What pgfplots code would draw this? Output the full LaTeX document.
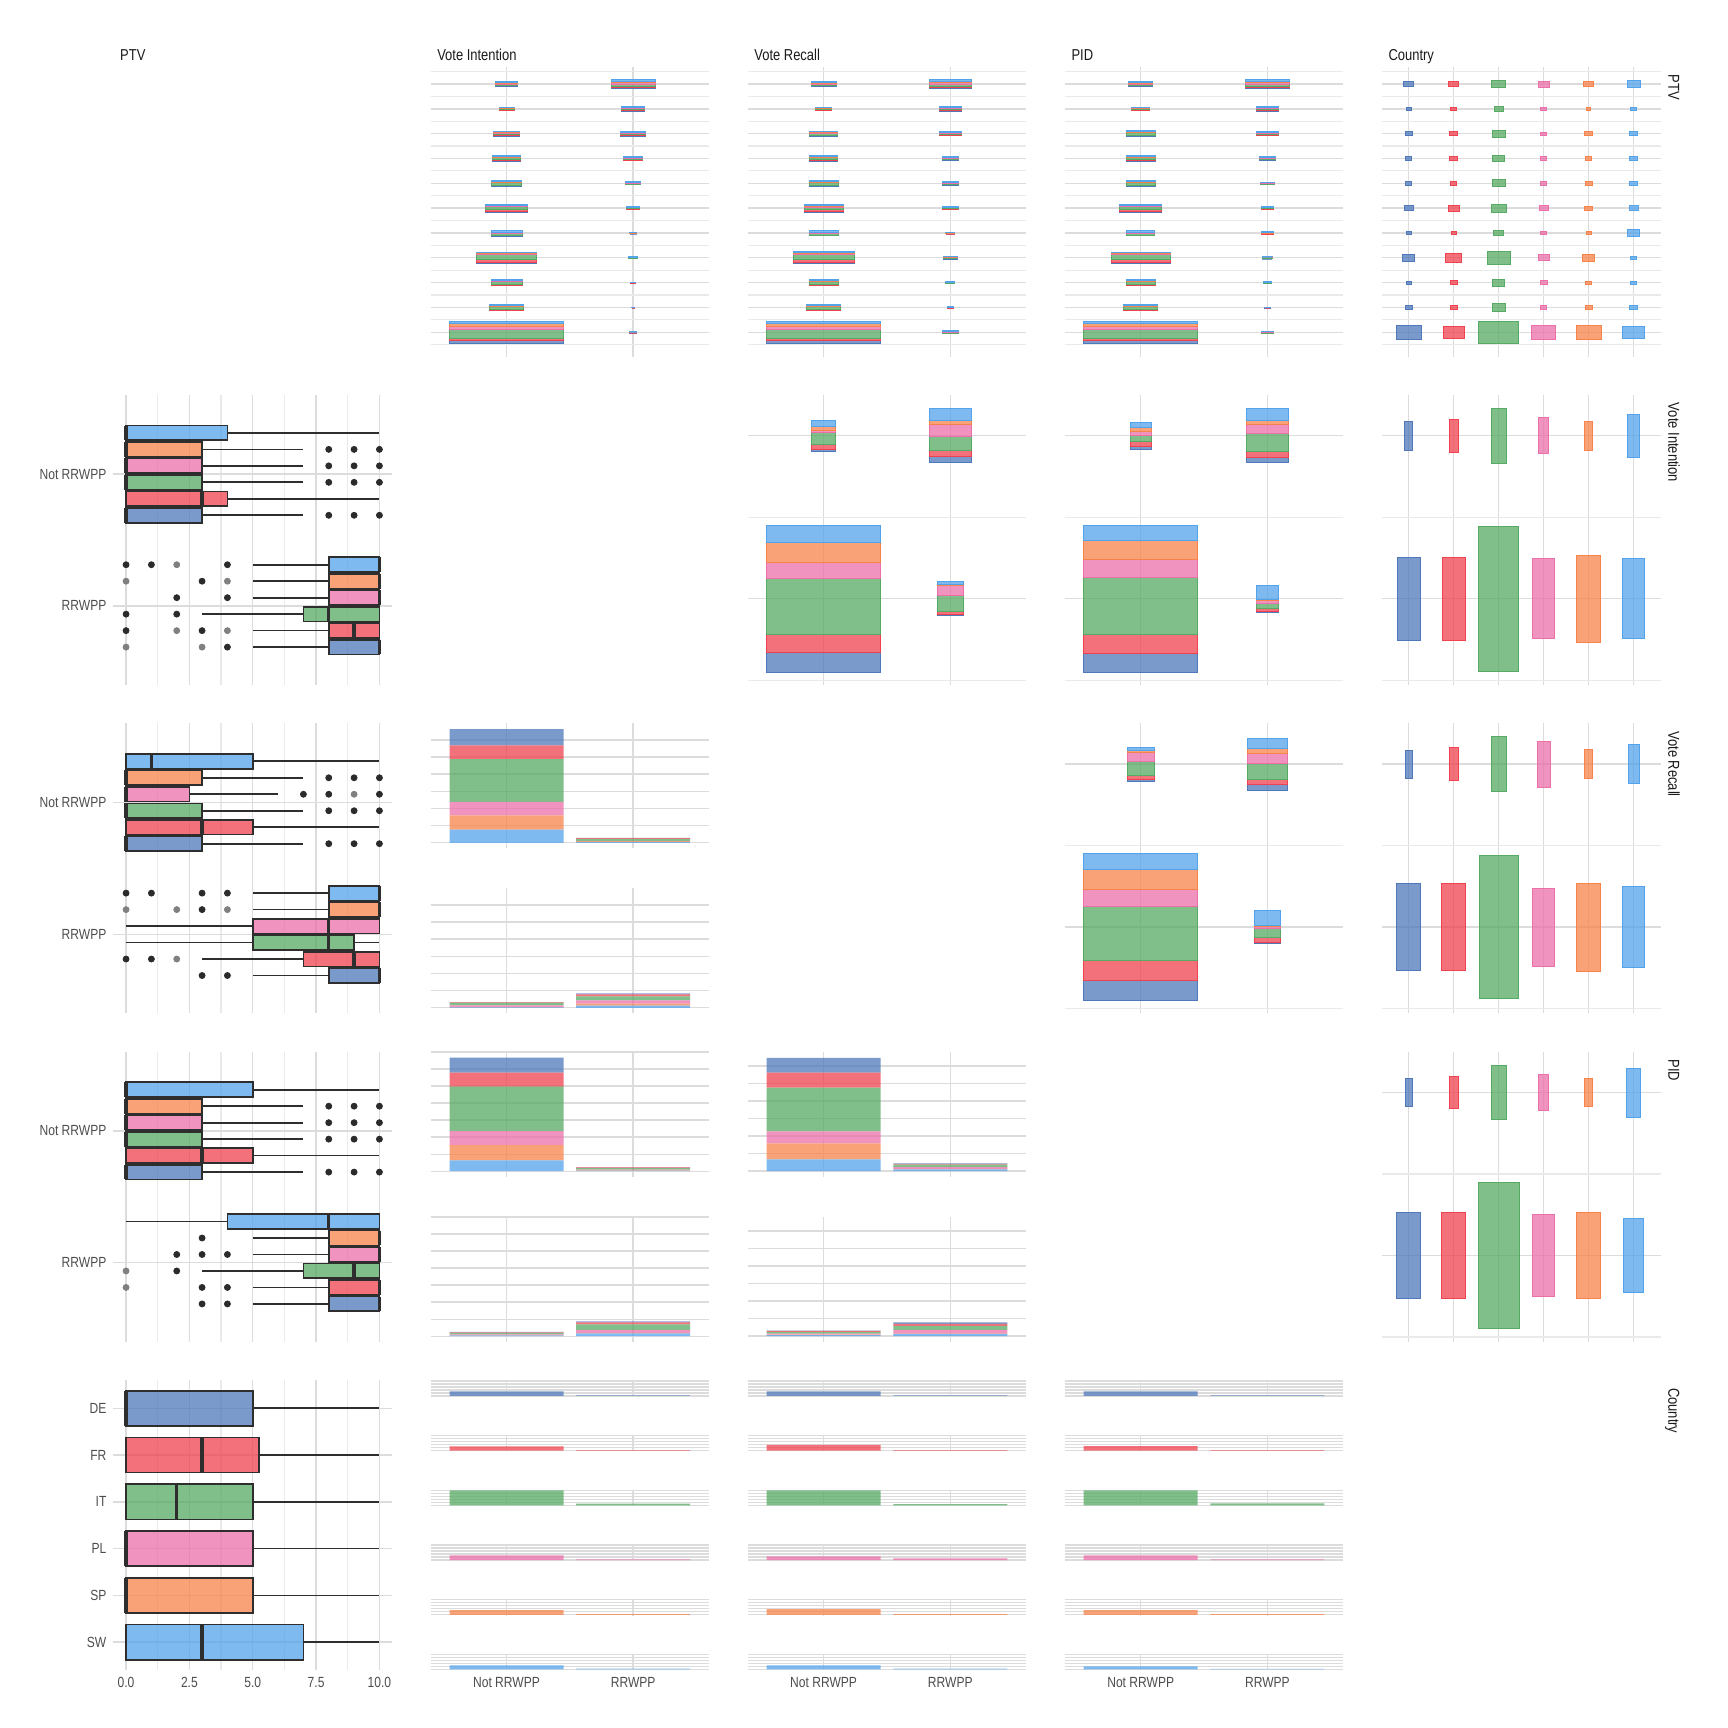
\documentclass[border=0pt]{standalone}
\usepackage{fontspec}
\setmainfont{Liberation Sans}[FakeStretch=0.82]
\usepackage{pgfplots}
\usepackage{pgfplotstable}
\pgfplotsset{compat=1.18}
\usepgfplotslibrary{statistics}

\definecolor{cDE}{HTML}{4E78BA}
\definecolor{cFR}{HTML}{EE424E}
\definecolor{cIT}{HTML}{56AA63}
\definecolor{cPL}{HTML}{EB6FA8}
\definecolor{cSP}{HTML}{F7834A}
\definecolor{cSW}{HTML}{53A3EB}
\definecolor{gmaj}{HTML}{DCDCDC}
\definecolor{gmin}{HTML}{EAEAEA}
\definecolor{tickc}{HTML}{4D4D4D}
\definecolor{stripc}{HTML}{1A1A1A}
\definecolor{bxline}{HTML}{2E2E2E}
\definecolor{ptdark}{HTML}{2B2B2B}
\definecolor{ptlight}{HTML}{808080}

\newcommand\tickfont{\fontsize{7.35bp}{8.5bp}\selectfont}
\newcommand\stripfont{\fontsize{7.9bp}{9bp}\selectfont}

\newcommand\drawstack{%
 \pgfmathsetmacro\hw{\vW/2}%
 \pgfmathsetmacro\tot{\vA+\vB+\vC+\vD+\vE+\vF}%
 \pgfmathsetmacro\yA{-\hw}%
 \pgfmathsetmacro\yB{\yA+\vW*\vA/\tot}%
 \pgfmathsetmacro\yC{\yB+\vW*\vB/\tot}%
 \pgfmathsetmacro\yD{\yC+\vW*\vC/\tot}%
 \pgfmathsetmacro\yE{\yD+\vW*\vD/\tot}%
 \pgfmathsetmacro\yF{\yE+\vW*\vE/\tot}%
 \fill[cDE,fill opacity=0.75] (axis direction cs:-\hw,\yA) rectangle (axis direction cs:\hw,\yB);
 \fill[cFR,fill opacity=0.75] (axis direction cs:-\hw,\yB) rectangle (axis direction cs:\hw,\yC);
 \fill[cIT,fill opacity=0.75] (axis direction cs:-\hw,\yC) rectangle (axis direction cs:\hw,\yD);
 \fill[cPL,fill opacity=0.75] (axis direction cs:-\hw,\yD) rectangle (axis direction cs:\hw,\yE);
 \fill[cSP,fill opacity=0.75] (axis direction cs:-\hw,\yE) rectangle (axis direction cs:\hw,\yF);
 \fill[cSW,fill opacity=0.75] (axis direction cs:-\hw,\yF) rectangle (axis direction cs:\hw,\hw);
}
\newcommand\drawsingle{%
 \pgfmathsetmacro\hw{\vW/2}%
 \pgfmathtruncatemacro\ix{round(\vX)}%
 \ifcase\ix\relax\def\cellcol{cDE}\or\def\cellcol{cDE}\or\def\cellcol{cFR}\or\def\cellcol{cIT}\or\def\cellcol{cPL}\or\def\cellcol{cSP}\or\def\cellcol{cSW}\else\def\cellcol{cSW}\fi
 \fill[\cellcol,fill opacity=0.75] (axis direction cs:-\hw,-\hw) rectangle (axis direction cs:\hw,\hw);
}

\pgfplotsset{
 panel/.style={scale only axis, width=139.35bp, height=145bp, anchor=north west,
  axis line style={draw=none}, major tick length=0pt, minor tick length=0pt,
  tick style={draw=none}, enlargelimits=false, clip=false,
  major grid style={gmaj, line width=0.7bp},
  minor grid style={gmin, line width=0.6bp},
  tick label style={font=\tickfont, text=tickc},
  xticklabels={}, yticklabels={}},
 bxp/.style={xmin=-0.5,xmax=10.5,ymin=0.4,ymax=2.6,y dir=reverse,
  xtick={0,2.5,5,7.5,10}, minor xtick={1.25,3.75,6.25,8.75},
  ytick={1,2}, yticklabels={Not RRWPP,RRWPP}, xmajorgrids, xminorgrids, ymajorgrids},
 cnt1/.style={xmin=0.4,xmax=2.6,ymin=-0.98,ymax=10.7,xtick={1,2},ytick={0,...,10},
  minor ytick={-0.5,0.5,...,10.5},xmajorgrids,ymajorgrids,yminorgrids},
 cntc1/.style={cnt1, xmax=6.6, xtick={1,...,6}},
 cnt2/.style={xmin=0.4,xmax=2.6,ymin=0.47,ymax=2.25,xtick={1,2},ytick={1,2},
  minor ytick={0.5,1.5},xmajorgrids,ymajorgrids,yminorgrids},
 cntc2/.style={cnt2, xmax=6.6, xtick={1,...,6}},
 cellstack/.style={scatter, only marks, mark=*, mark size=0pt, point meta=y,
  visualization depends on={\thisrow{w}\as\vW},
  visualization depends on={\thisrow{a}\as\vA},
  visualization depends on={\thisrow{b}\as\vB},
  visualization depends on={\thisrow{c}\as\vC},
  visualization depends on={\thisrow{d}\as\vD},
  visualization depends on={\thisrow{e}\as\vE},
  visualization depends on={\thisrow{f}\as\vF},
  scatter/@pre marker code/.code={\drawstack},
  scatter/@post marker code/.code={}},
 cellsingle/.style={scatter, only marks, mark=*, mark size=0pt, point meta=y,
  visualization depends on={\thisrow{w}\as\vW},
  visualization depends on={\thisrow{x}\as\vX},
  scatter/@pre marker code/.code={\drawsingle},
  scatter/@post marker code/.code={}},
 fb/.style={height=62.5bp, xmin=0.4,xmax=2.6,xtick={1,2},ytick={0,...,7},
  xmajorgrids,ymajorgrids,ybar stacked,bar width=0.9},
 fb5/.style={height=8.25bp, xmin=0.4,xmax=2.6,ymin=-0.05,ymax=1.05,xtick={1,2},
  ytick={0,0.2,0.4,0.6,0.8,1},xmajorgrids,ymajorgrids,ybar,bar width=0.9},
 bar/.style={draw=none, fill=#1, fill opacity=0.75},
 dk/.style={only marks, mark=*, mark size=1.5bp, color=ptdark, mark options={draw=none}},
 lt/.style={only marks, mark=*, mark size=1.5bp, color=ptlight, mark options={draw=none}},
}

\newcommand\bx[7]{\addplot[boxplot prepared={draw position=#1, lower whisker=#2,
  lower quartile=#3, median=#4, upper quartile=#5, upper whisker=#6, box extend=\bxe,
  whisker extend=0, every median/.style={line width=1.7bp}},
  draw=bxline, line width=0.85bp, fill=#7, fill opacity=0.75] coordinates {};}
\def\bxe{0.112}

\newcommand\fbfive[6]{%
\begin{axis}[panel, fb5, at={(#1,#2)}, #6]
\addplot[bar=#3] coordinates {(1,#4)(2,#5)};
\end{axis}}

\def\cA{56.7bp}\def\cB{215.25bp}\def\cC{373.8bp}\def\cD{532.35bp}\def\cE{690.9bp}
\def\rA{-33.3bp}\def\rB{-197.5bp}\def\rC{-361.7bp}\def\rD{-525.9bp}\def\rE{-690.1bp}

\begin{document}
\pgfplotstableread[row sep=\\]{
x y w a b c d e f\\
1 0 0.897 391 276 1000 360 391 302\\
1 1 0.268 31 31 106 22 31 40\\
1 2 0.243 16 31 90 31 22 22\\
1 3 0.474 90 160 330 76 90 22\\
1 4 0.243 16 16 62 22 16 90\\
1 5 0.330 51 76 141 51 40 51\\
1 6 0.237 22 22 106 22 31 40\\
1 7 0.221 22 40 90 22 22 40\\
1 8 0.206 31 40 106 22 40 40\\
1 9 0.118 16 22 51 22 10 22\\
1 10 0.168 62 62 122 76 62 106\\
2 0 0.056 391 276 1000 360 391 302\\
2 1 0.022 31 31 106 22 31 40\\
2 2 0.040 16 31 90 31 22 22\\
2 3 0.072 90 160 330 76 90 22\\
2 4 0.056 16 16 62 22 16 90\\
2 5 0.103 51 76 141 51 40 51\\
2 6 0.118 22 22 106 22 31 40\\
2 7 0.150 22 40 90 22 22 40\\
2 8 0.196 31 40 106 22 40 40\\
2 9 0.181 16 22 51 22 10 22\\
2 10 0.349 62 62 122 76 62 106\\
}\tVI
\pgfplotstableread[row sep=\\]{
x y w a b c d e f\\
1 0 0.9 391 276 1000 360 391 302\\
1 1 0.27 31 31 106 22 31 40\\
1 2 0.23 16 31 90 31 22 22\\
1 3 0.48 90 160 330 76 90 22\\
1 4 0.23 16 16 62 22 16 90\\
1 5 0.31 51 76 141 51 40 51\\
1 6 0.23 22 22 106 22 31 40\\
1 7 0.22 22 40 90 22 22 40\\
1 8 0.22 31 40 106 22 40 40\\
1 9 0.13 16 22 51 22 10 22\\
1 10 0.2 62 62 122 76 62 106\\
2 0 0.12 391 276 1000 360 391 302\\
2 1 0.05 31 31 106 22 31 40\\
2 2 0.07 16 31 90 31 22 22\\
2 3 0.11 90 160 330 76 90 22\\
2 4 0.07 16 16 62 22 16 90\\
2 5 0.13 51 76 141 51 40 51\\
2 6 0.13 22 22 106 22 31 40\\
2 7 0.13 22 40 90 22 22 40\\
2 8 0.17 31 40 106 22 40 40\\
2 9 0.17 16 22 51 22 10 22\\
2 10 0.33 62 62 122 76 62 106\\
}\tVR
\pgfplotstableread[row sep=\\]{
x y w a b c d e f\\
1 0 0.9 391 276 1000 360 391 302\\
1 1 0.27 31 31 106 22 31 40\\
1 2 0.23 16 31 90 31 22 22\\
1 3 0.47 90 160 330 76 90 22\\
1 4 0.22 16 16 62 22 16 90\\
1 5 0.33 51 76 141 51 40 51\\
1 6 0.23 22 22 106 22 31 40\\
1 7 0.23 22 40 90 22 22 40\\
1 8 0.23 31 40 106 22 40 40\\
1 9 0.14 16 22 51 22 10 22\\
1 10 0.19 62 62 122 76 62 106\\
2 0 0.1 391 276 1000 360 391 302\\
2 1 0.04 31 31 106 22 31 40\\
2 2 0.06 16 31 90 31 22 22\\
2 3 0.08 90 160 330 76 90 22\\
2 4 0.1 16 16 62 22 16 90\\
2 5 0.1 51 76 141 51 40 51\\
2 6 0.11 22 22 106 22 31 40\\
2 7 0.13 22 40 90 22 22 40\\
2 8 0.17 31 40 106 22 40 40\\
2 9 0.17 16 22 51 22 10 22\\
2 10 0.34 62 62 122 76 62 106\\
}\tPID
\pgfplotstableread[row sep=\\]{
x y w\\
1 10 0.223\\ 2 10 0.223\\ 3 10 0.312\\ 4 10 0.245\\ 5 10 0.223\\ 6 10 0.289\\
1 9 0.111\\ 2 9 0.134\\ 3 9 0.2\\ 4 9 0.134\\ 5 9 0.089\\ 6 9 0.134\\
1 8 0.156\\ 2 8 0.178\\ 3 8 0.289\\ 4 8 0.134\\ 5 8 0.178\\ 6 8 0.178\\
1 7 0.134\\ 2 7 0.178\\ 3 7 0.267\\ 4 7 0.134\\ 5 7 0.134\\ 6 7 0.178\\
1 6 0.134\\ 2 6 0.134\\ 3 6 0.289\\ 4 6 0.134\\ 5 6 0.156\\ 6 6 0.178\\
1 5 0.2\\ 2 5 0.245\\ 3 5 0.334\\ 4 5 0.2\\ 5 5 0.178\\ 6 5 0.2\\
1 4 0.111\\ 2 4 0.111\\ 3 4 0.223\\ 4 4 0.134\\ 5 4 0.111\\ 6 4 0.267\\
1 3 0.267\\ 2 3 0.356\\ 3 3 0.512\\ 4 3 0.245\\ 5 3 0.267\\ 6 3 0.134\\
1 2 0.111\\ 2 2 0.156\\ 3 2 0.267\\ 4 2 0.156\\ 5 2 0.134\\ 6 2 0.134\\
1 1 0.156\\ 2 1 0.156\\ 3 1 0.289\\ 4 1 0.134\\ 5 1 0.156\\ 6 1 0.178\\
1 0 0.556\\ 2 0 0.467\\ 3 0 0.89\\ 4 0 0.534\\ 5 0 0.556\\ 6 0 0.49\\
}\tPtvC
\pgfplotstableread[row sep=\\]{
x y w a b c d e f\\
1 1 0.9 60 54 168 48 60 51\\
2 1 0.21 4 8 48 31 3 8\\
1 2 0.19 6 15 35 4 12 18\\
2 2 0.33 18 18 44 34 14 34\\
}\tViVr
\pgfplotstableread[row sep=\\]{
x y w a b c d e f\\
1 1 0.9 56 58 170 54 58 45\\
2 1 0.166 3 9 15 8 2 44\\
1 2 0.166 9 15 17 13 12 15\\
2 2 0.33 15 20 54 28 12 36\\
}\tViPid
\pgfplotstableread[row sep=\\]{
x y w a b c d e f\\
1 1 0.9 18 18 49 16 18 14\\
2 1 0.2 1 5 8 2 1 14\\
1 2 0.21 2 3 12 8 2 3\\
2 2 0.32 5 5 14 9 5 9\\
}\tVrPid
\pgfplotstableread[row sep=\\]{
x y w\\
1 2 0.178\\ 2 2 0.2\\ 3 2 0.334\\ 4 2 0.22\\ 5 2 0.178\\ 6 2 0.267\\
1 1 0.51\\ 2 1 0.51\\ 3 1 0.89\\ 4 1 0.49\\ 5 1 0.534\\ 6 1 0.49\\
}\tViC
\pgfplotstableread[row sep=\\]{
x y w\\
1 2 0.17\\ 2 2 0.2\\ 3 2 0.34\\ 4 2 0.28\\ 5 2 0.18\\ 6 2 0.24\\
1 1 0.53\\ 2 1 0.53\\ 3 1 0.88\\ 4 1 0.48\\ 5 1 0.54\\ 6 1 0.5\\
}\tVrC
\pgfplotstableread[row sep=\\]{
x y w\\
1 2 0.17\\ 2 2 0.2\\ 3 2 0.33\\ 4 2 0.22\\ 5 2 0.17\\ 6 2 0.3\\
1 1 0.53\\ 2 1 0.53\\ 3 1 0.9\\ 4 1 0.5\\ 5 1 0.53\\ 6 1 0.45\\
}\tPidC

\begin{tikzpicture}
\path[use as bounding box] (0,0) rectangle (864bp,-864bp);

% top strips
\foreach \xx/\lab in {59.9/PTV, 218.45/Vote Intention, 377/Vote Recall, 535.55/PID, 694.1/Country}
 \node[anchor=base west, inner sep=0pt, font=\stripfont, text=stripc] at (\xx bp,-30bp) {\lab};
% right strips
\foreach \yy/\lab in {37.05/PTV, 201.25/Vote Intention, 365.45/Vote Recall, 529.65/PID, 693.85/Country}
 \node[rotate=-90, anchor=base west, inner sep=0pt, font=\stripfont, text=stripc] at (834.15bp,-\yy bp) {\lab};

%================ Row 1 (PTV)
\begin{axis}[panel, cnt1, at={(\cB,\rA)}]
\addplot[cellstack] table {\tVI};
\end{axis}
\begin{axis}[panel, cnt1, at={(\cC,\rA)}]
\addplot[cellstack] table {\tVR};
\end{axis}
\begin{axis}[panel, cnt1, at={(\cD,\rA)}]
\addplot[cellstack] table {\tPID};
\end{axis}
\begin{axis}[panel, cntc1, at={(\cE,\rA)}]
\addplot[cellsingle] table {\tPtvC};
\end{axis}

%================ Row 2 (Vote Intention)
\begin{axis}[panel, bxp, at={(\cA,\rB)}]
\bx{0.6875}{0}{0}{0}{4}{10}{cSW}
\bx{0.8125}{0}{0}{0}{3}{7}{cSP}
\bx{0.9375}{0}{0}{0}{3}{7}{cPL}
\bx{1.0625}{0}{0}{0}{3}{7}{cIT}
\bx{1.1875}{0}{0}{3}{4}{10}{cFR}
\bx{1.3125}{0}{0}{0}{3}{7}{cDE}
\bx{1.6875}{5}{8}{10}{10}{10}{cSW}
\bx{1.8125}{5}{8}{10}{10}{10}{cSP}
\bx{1.9375}{5}{8}{10}{10}{10}{cPL}
\bx{2.0625}{3}{7}{8}{10}{10}{cIT}
\bx{2.1875}{5}{8}{9}{10}{10}{cFR}
\bx{2.3125}{5}{8}{10}{10}{10}{cDE}
\addplot[dk] coordinates {(8,0.8125)(9,0.8125)(10,0.8125)(8,0.9375)(9,0.9375)(10,0.9375)(8,1.0625)(9,1.0625)(10,1.0625)(8,1.3125)(9,1.3125)(10,1.3125)(0,1.6875)(1,1.6875)(4,1.6875)(3,1.8125)(2,1.9375)(4,1.9375)(0,2.0625)(2,2.0625)(0,2.1875)(3,2.1875)(4,2.3125)};
\addplot[lt] coordinates {(2,1.6875)(0,1.8125)(4,1.8125)(2,2.1875)(4,2.1875)(0,2.3125)(3,2.3125)};
\end{axis}
\begin{axis}[panel, cnt2, at={(\cC,\rB)}]
\addplot[cellstack] table {\tViVr};
\end{axis}
\begin{axis}[panel, cnt2, at={(\cD,\rB)}]
\addplot[cellstack] table {\tViPid};
\end{axis}
\begin{axis}[panel, cntc2, at={(\cE,\rB)}]
\addplot[cellsingle] table {\tViC};
\end{axis}

%================ Row 3 (Vote Recall)
\begin{axis}[panel, bxp, at={(\cA,\rC)}]
\bx{0.6875}{0}{0}{1}{5}{10}{cSW}
\bx{0.8125}{0}{0}{0}{3}{7}{cSP}
\bx{0.9375}{0}{0}{0}{2.5}{6}{cPL}
\bx{1.0625}{0}{0}{0}{3}{7}{cIT}
\bx{1.1875}{0}{0}{3}{5}{10}{cFR}
\bx{1.3125}{0}{0}{0}{3}{7}{cDE}
\bx{1.6875}{5}{8}{10}{10}{10}{cSW}
\bx{1.8125}{5}{8}{10}{10}{10}{cSP}
\bx{1.9375}{0}{5}{8}{10}{10}{cPL}
\bx{2.0625}{0}{5}{8}{9}{10}{cIT}
\bx{2.1875}{3}{7}{9}{10}{10}{cFR}
\bx{2.3125}{5}{8}{10}{10}{10}{cDE}
\addplot[dk] coordinates {(8,0.8125)(9,0.8125)(10,0.8125)(7,0.9375)(8,0.9375)(10,0.9375)(8,1.0625)(9,1.0625)(10,1.0625)(8,1.3125)(9,1.3125)(10,1.3125)(0,1.6875)(1,1.6875)(3,1.6875)(4,1.6875)(3,1.8125)(0,2.1875)(1,2.1875)(3,2.3125)(4,2.3125)};
\addplot[lt] coordinates {(9,0.9375)(0,1.8125)(2,1.8125)(4,1.8125)(2,2.1875)};
\end{axis}
\begin{axis}[panel, fb, at={(\cB,\rC)}, ymin=-0.33, ymax=6.96]
\addplot[bar=cSW] coordinates {(1,0.77)(2,0.058)};
\addplot[bar=cSP] coordinates {(1,0.83)(2,0.039)};
\addplot[bar=cPL] coordinates {(1,0.79)(2,0.013)};
\addplot[bar=cIT] coordinates {(1,2.48)(2,0.113)};
\addplot[bar=cFR] coordinates {(1,0.81)(2,0.048)};
\addplot[bar=cDE] coordinates {(1,0.95)(2,0.019)};
\end{axis}
\begin{axis}[panel, fb, at={(\cB,-444.2bp)}, ymin=-0.33, ymax=6.96]
\addplot[bar=cSW] coordinates {(1,0.026)(2,0.12)};
\addplot[bar=cSP] coordinates {(1,0.01)(2,0.12)};
\addplot[bar=cPL] coordinates {(1,0.1)(2,0.19)};
\addplot[bar=cIT] coordinates {(1,0.155)(2,0.23)};
\addplot[bar=cFR] coordinates {(1,0.026)(2,0.12)};
\addplot[bar=cDE] coordinates {(1,0.013)(2,0.06)};
\end{axis}
\begin{axis}[panel, cnt2, at={(\cD,\rC)}]
\addplot[cellstack] table {\tVrPid};
\end{axis}
\begin{axis}[panel, cntc2, at={(\cE,\rC)}]
\addplot[cellsingle] table {\tVrC};
\end{axis}

%================ Row 4 (PID)
\begin{axis}[panel, bxp, at={(\cA,\rD)}]
\bx{0.6875}{0}{0}{0}{5}{10}{cSW}
\bx{0.8125}{0}{0}{0}{3}{7}{cSP}
\bx{0.9375}{0}{0}{0}{3}{7}{cPL}
\bx{1.0625}{0}{0}{0}{3}{7}{cIT}
\bx{1.1875}{0}{0}{3}{5}{10}{cFR}
\bx{1.3125}{0}{0}{0}{3}{7}{cDE}
\bx{1.6875}{0}{4}{8}{10}{10}{cSW}
\bx{1.8125}{5}{8}{10}{10}{10}{cSP}
\bx{1.9375}{5}{8}{10}{10}{10}{cPL}
\bx{2.0625}{3}{7}{9}{10}{10}{cIT}
\bx{2.1875}{5}{8}{10}{10}{10}{cFR}
\bx{2.3125}{5}{8}{10}{10}{10}{cDE}
\addplot[dk] coordinates {(8,0.8125)(9,0.8125)(10,0.8125)(8,0.9375)(9,0.9375)(10,0.9375)(8,1.0625)(9,1.0625)(10,1.0625)(8,1.3125)(9,1.3125)(10,1.3125)(3,1.8125)(2,1.9375)(3,1.9375)(4,1.9375)(2,2.0625)(3,2.1875)(4,2.1875)(3,2.3125)(4,2.3125)};
\addplot[lt] coordinates {(0,2.0625)(0,2.1875)};
\end{axis}
\begin{axis}[panel, fb, at={(\cB,\rD)}, ymin=-0.33, ymax=7.02]
\addplot[bar=cSW] coordinates {(1,0.63)(2,0.04)};
\addplot[bar=cSP] coordinates {(1,0.9)(2,0.03)};
\addplot[bar=cPL] coordinates {(1,0.82)(2,0.03)};
\addplot[bar=cIT] coordinates {(1,2.63)(2,0.08)};
\addplot[bar=cFR] coordinates {(1,0.82)(2,0.04)};
\addplot[bar=cDE] coordinates {(1,0.88)(2,0.02)};
\end{axis}
\begin{axis}[panel, fb, at={(\cB,-608.4bp)}, ymin=-0.33, ymax=7.02]
\addplot[bar=cSW] coordinates {(1,0.05)(2,0.16)};
\addplot[bar=cSP] coordinates {(1,0.02)(2,0.04)};
\addplot[bar=cPL] coordinates {(1,0.04)(2,0.18)};
\addplot[bar=cIT] coordinates {(1,0.08)(2,0.31)};
\addplot[bar=cFR] coordinates {(1,0.04)(2,0.12)};
\addplot[bar=cDE] coordinates {(1,0.02)(2,0.06)};
\end{axis}
\begin{axis}[panel, fb, at={(\cC,\rD)}, ymin=-0.32, ymax=6.8]
\addplot[bar=cSW] coordinates {(1,0.68)(2,0.11)};
\addplot[bar=cSP] coordinates {(1,0.91)(2,0.02)};
\addplot[bar=cPL] coordinates {(1,0.68)(2,0.1)};
\addplot[bar=cIT] coordinates {(1,2.49)(2,0.15)};
\addplot[bar=cFR] coordinates {(1,0.85)(2,0.04)};
\addplot[bar=cDE] coordinates {(1,0.85)(2,0.02)};
\end{axis}
\begin{axis}[panel, fb, at={(\cC,-608.4bp)}, ymin=-0.32, ymax=6.8]
\addplot[bar=cSW] coordinates {(1,0.06)(2,0.13)};
\addplot[bar=cSP] coordinates {(1,0.03)(2,0.02)};
\addplot[bar=cPL] coordinates {(1,0.06)(2,0.21)};
\addplot[bar=cIT] coordinates {(1,0.1)(2,0.23)};
\addplot[bar=cFR] coordinates {(1,0.05)(2,0.11)};
\addplot[bar=cDE] coordinates {(1,0.02)(2,0.08)};
\end{axis}
\begin{axis}[panel, cntc2, at={(\cE,\rD)}]
\addplot[cellsingle] table {\tPidC};
\end{axis}

%================ Row 5 (Country)
\def\bxe{0.75}
\begin{axis}[panel, at={(\cA,\rE)}, xmin=-0.5,xmax=10.5,ymin=0.4,ymax=6.6,y dir=reverse,
  xtick={0,2.5,5,7.5,10}, xticklabels={0.0,2.5,5.0,7.5,10.0}, minor xtick={1.25,3.75,6.25,8.75},
  ytick={1,...,6}, yticklabels={DE,FR,IT,PL,SP,SW}, xmajorgrids, xminorgrids, ymajorgrids]
\bx{1}{0}{0}{0}{5}{10}{cDE}
\bx{2}{0}{0}{3}{5.25}{10}{cFR}
\bx{3}{0}{0}{2}{5}{10}{cIT}
\bx{4}{0}{0}{0}{5}{10}{cPL}
\bx{5}{0}{0}{0}{5}{10}{cSP}
\bx{6}{0}{0}{3}{7}{10}{cSW}
\end{axis}
% col 2 (Vote Intention)
\fbfive{\cB}{-690.1bp}{cDE}{0.31}{0.04}{}
\fbfive{\cB}{-717.45bp}{cFR}{0.29}{0.04}{}
\fbfive{\cB}{-744.8bp}{cIT}{1}{0.11}{}
\fbfive{\cB}{-772.15bp}{cPL}{0.31}{0.04}{}
\fbfive{\cB}{-799.5bp}{cSP}{0.31}{0.04}{}
\fbfive{\cB}{-826.85bp}{cSW}{0.27}{0.06}{xticklabels={Not RRWPP,RRWPP}}
% col 3 (Vote Recall)
\fbfive{\cC}{-690.1bp}{cDE}{0.31}{0.04}{}
\fbfive{\cC}{-717.45bp}{cFR}{0.38}{0.04}{}
\fbfive{\cC}{-744.8bp}{cIT}{1}{0.09}{}
\fbfive{\cC}{-772.15bp}{cPL}{0.24}{0.11}{}
\fbfive{\cC}{-799.5bp}{cSP}{0.38}{0.04}{}
\fbfive{\cC}{-826.85bp}{cSW}{0.27}{0.06}{xticklabels={Not RRWPP,RRWPP}}
% col 4 (PID)
\fbfive{\cD}{-690.1bp}{cDE}{0.31}{0.04}{}
\fbfive{\cD}{-717.45bp}{cFR}{0.31}{0.04}{}
\fbfive{\cD}{-744.8bp}{cIT}{1}{0.13}{}
\fbfive{\cD}{-772.15bp}{cPL}{0.31}{0.04}{}
\fbfive{\cD}{-799.5bp}{cSP}{0.31}{0.04}{}
\fbfive{\cD}{-826.85bp}{cSW}{0.2}{0.04}{xticklabels={Not RRWPP,RRWPP}}
\end{tikzpicture}
\end{document}
